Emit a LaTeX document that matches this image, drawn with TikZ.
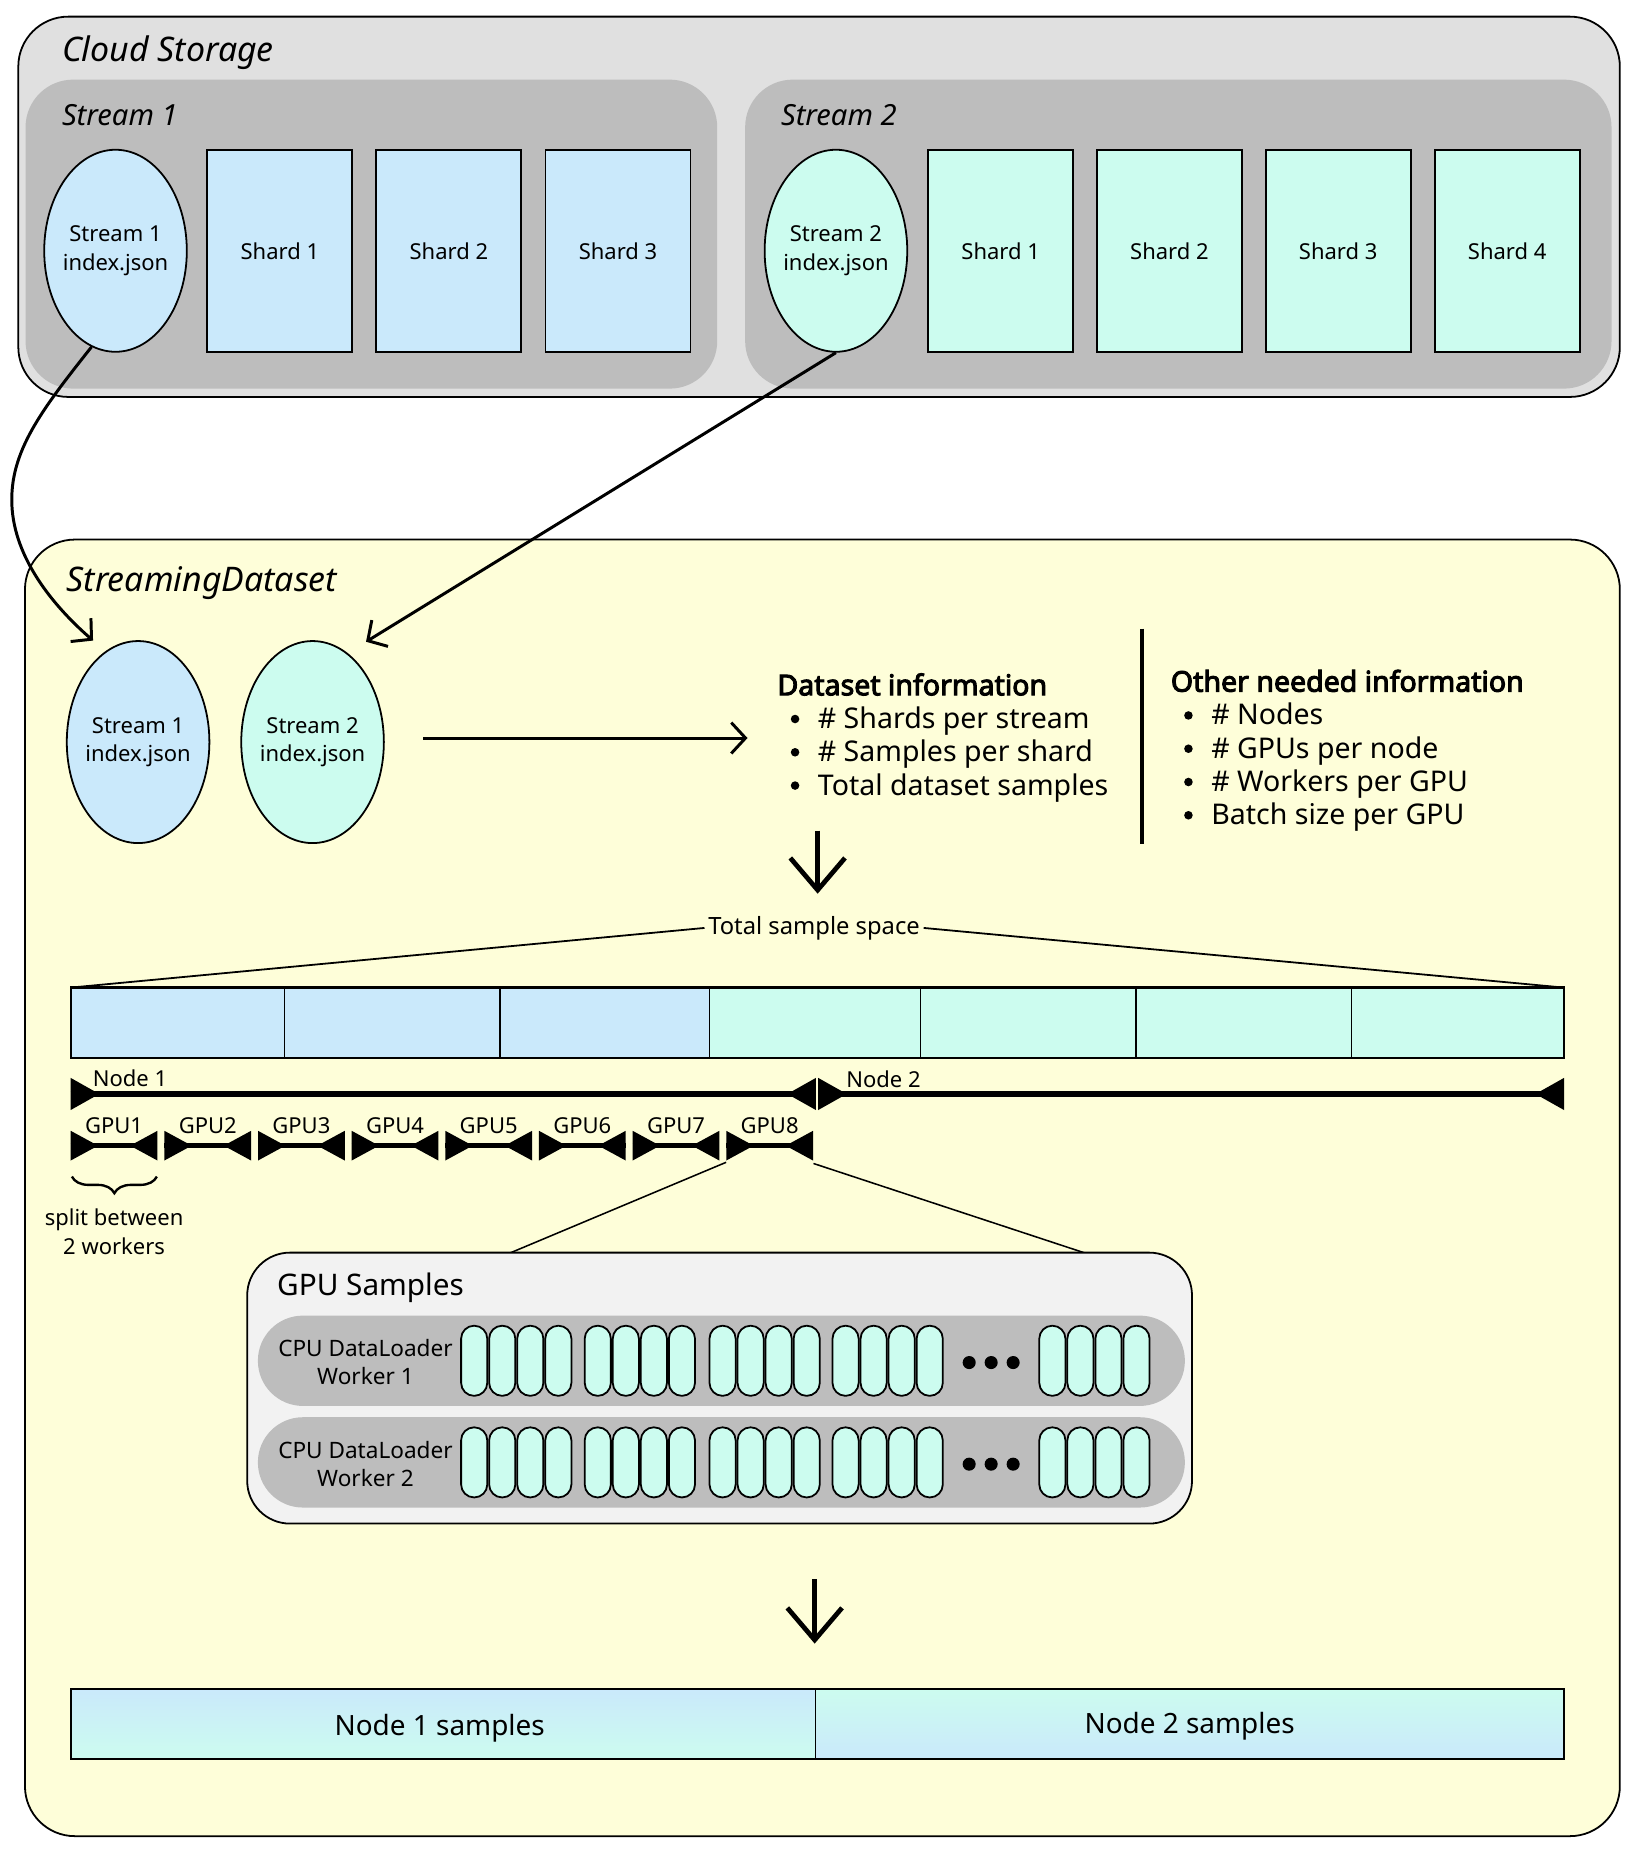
\documentclass[tikz,border=0pt]{standalone}
\usepackage{fontspec}
\setmainfont{Noto Sans}[AutoFakeBold=3.5]
\usetikzlibrary{shapes.geometric,arrows.meta,decorations.pathreplacing}
\definecolor{lblue}{HTML}{CAE9FB}
\definecolor{mint}{HTML}{CCFCEF}
\definecolor{ylw}{HTML}{FEFED9}
\definecolor{cloudg}{HTML}{E0E0E0}
\definecolor{streamg}{HTML}{BDBDBD}
\definecolor{gpubox}{HTML}{F2F2F2}
\newcommand\trir[4]{\fill (#1,#2-#3) -- (#1+#4,#2) -- (#1,#2+#3) -- cycle;}
\newcommand\tril[4]{\fill (#1,#2-#3) -- (#1-#4,#2) -- (#1,#2+#3) -- cycle;}
\newcommand\dimline[6]{\draw[line width=#6] (#1,#3) -- (#2,#3); \trir{#1}{#3}{#4}{#5} \tril{#2}{#3}{#4}{#5}}
\tikzset{
  outerbox/.style={draw=black, line width=1.5pt, rounded corners=42pt},
  innerbox/.style={rounded corners=40pt},
  boxtitle/.style={anchor=base west, inner sep=0pt, font=\fontsize{28.5}{32}\selectfont\itshape},
  subtitle/.style={anchor=base west, inner sep=0pt, font=\fontsize{24.5}{28}\selectfont\itshape},
  idx/.style={ellipse, draw, line width=1.5pt, minimum width=120pt, minimum height=170pt, inner sep=-12pt, align=center, font=\fontsize{18.5}{24}\selectfont},
  shard/.style={rectangle, draw, line width=1.5pt, minimum width=122pt, minimum height=170pt, inner sep=0pt, font=\fontsize{18.5}{22}\selectfont},
  infoblock/.style={anchor=base west, inner sep=0pt, align=left, font=\fontsize{24}{28}\selectfont},
  smalllab/.style={inner sep=0pt, font=\fontsize{18.5}{24}\selectfont},
  arr/.style={line width=2.5pt, -{Straight Barb[length=12pt,width=26pt]}},
  bigarr/.style={line width=4pt, -{Straight Barb[length=27pt,width=46pt]}},
  pill/.style={draw, line width=1.5pt, fill=mint, rounded corners=10.9pt},
}
\begin{document}
\begin{tikzpicture}[x=1pt,y=-1pt]
\useasboundingbox (0,0) rectangle (1380,1563.4);
\fill[white] (0,0) rectangle (1380,1563.4);

% ---------------- Cloud storage ----------------
\draw[outerbox, fill=cloudg] (15.4,14) rectangle (1363,334);
\node[boxtitle] (cloudt) at (52,52) {Cloud Storage};
\fill[innerbox, streamg] (21.5,67) rectangle (603.5,327);
\fill[innerbox, streamg] (627,67) rectangle (1356,327);
\node[subtitle] (st1) at (52,106) {Stream 1};
\node[subtitle] (st2) at (657,106) {Stream 2};

\node[idx, fill=lblue] (s1c) at (97.2,211) {Stream 1\\index.json};
\node[shard, fill=lblue] (a1) at (235.5,211) {Shard 1};
\node[shard, fill=lblue] (a2) at (377.7,211) {Shard 2};
\node[shard, fill=lblue] (a3) at (520,211) {Shard 3};

\node[idx, fill=mint] (s2c) at (703.4,211) {Stream 2\\index.json};
\node[shard, fill=mint] (b1) at (842,211) {Shard 1};
\node[shard, fill=mint] (b2) at (984,211) {Shard 2};
\node[shard, fill=mint] (b3) at (1126,211) {Shard 3};
\node[shard, fill=mint] (b4) at (1268.2,211) {Shard 4};

% ---------------- Streaming dataset ----------------
\draw[outerbox, fill=ylw] (21,454) rectangle (1363,1545);
\node[boxtitle] (sdt) at (56,497.5) {StreamingDataset};

\node[idx, fill=lblue] (d1) at (116.2,624.4) {Stream 1\\index.json};
\node[idx, fill=mint] (d2) at (263,624.4) {Stream 2\\index.json};

\coordinate (e1) at (78.3,539);
\coordinate (e2) at (308,540);
\draw[arr] (s1c.256) .. controls (35,345) and (8,380) .. (10,425) .. controls (12,470) and (45,510) .. (e1);
\draw[arr] (s2c.south) -- (e2);

\coordinate (ra1) at (356,621);
\coordinate (ra2) at (629,621);
\draw[arr] (ra1) -- (ra2);

\node[infoblock] (dinfo) at (654,669) {{\bfseries Dataset information}\\
\hspace*{34pt}\# Shards per stream\\
\hspace*{34pt}\# Samples per shard\\
\hspace*{34pt}Total dataset samples};
\foreach \by in {613,641,669}{\fill (669,\by-8) circle (3.6pt);}

\coordinate (vl1) at (961,529);
\coordinate (vl2) at (961,710);
\draw[line width=4pt] (vl1) -- (vl2);

\node[infoblock] (oinfo) at (985,694) {{\bfseries Other needed information}\\
\hspace*{34pt}\# Nodes\\
\hspace*{34pt}\# GPUs per node\\
\hspace*{34pt}\# Workers per GPU\\
\hspace*{34pt}Batch size per GPU};
\foreach \by in {610,638,666,694}{\fill (1000,\by-8) circle (3.6pt);}

\coordinate (da1) at (688,699);
\coordinate (da2) at (688,752);
\draw[bigarr] (da1) -- (da2);

% total sample space
\node[inner sep=3pt, anchor=base, font=\fontsize{20}{24}\selectfont] (tss) at (685,786) {Total sample space};
\coordinate (bl) at (59.5,831);
\coordinate (br) at (1316,831);
\draw[line width=1.5pt] (tss.west) -- (bl);
\draw[line width=1.5pt] (tss.east) -- (br);

\foreach \xa/\xb/\c in {59.5/239.5/lblue,239.5/420.7/lblue,420.7/596.7/lblue,596.7/774.5/mint,774.5/955.8/mint,955.8/1137/mint,1137/1316/mint}{
  \draw[fill=\c, line width=1pt] (\xa,831) rectangle (\xb,890);
}
\draw[line width=2pt] (bl) rectangle (1316,890);

% node lines
\dimline{59.5}{686.5}{920.5}{13.5}{24}{4.5pt}
\dimline{688.5}{1316}{920.5}{13.5}{24}{4.5pt}
\node[smalllab, anchor=base west] (n1l) at (78,914) {Node 1};
\node[smalllab, anchor=base west] (n2l) at (712,915) {Node 2};

% gpu lines
\foreach \i in {0,...,7}{
  \pgfmathsetmacro\xa{59.5+78.8*\i}
  \pgfmathsetmacro\xb{\xa+73}
  \pgfmathsetmacro\xc{\xa+36.5}
  \pgfmathtruncatemacro\j{\i+1}
  \dimline{\xa}{\xb}{964}{12.5}{23}{4pt}
  \node[smalllab, anchor=base] (gpu\j) at (\xc,953.5) {GPU\j};
}

\draw[decorate, decoration={brace, amplitude=14pt, mirror}, line width=2pt] (60.5,990) -- (132,990);
\node[smalllab, align=center, anchor=base, font=\fontsize{18.5}{24}\selectfont] (split) at (96,1055.5) {split between\\2 workers};

% zoom lines
\coordinate (z1) at (611,978);
\coordinate (z2) at (684.5,979);
\coordinate (z3) at (427.5,1055);
\coordinate (z4) at (915,1055);
\draw[line width=1.3pt] (z1) -- (z3);
\draw[line width=1.3pt] (z2) -- (z4);

% GPU samples box
\draw[fill=gpubox, line width=1.5pt, rounded corners=36pt] (208,1054) rectangle (1003,1282);
\node[anchor=base west, inner sep=0pt, font=\fontsize{25}{28}\selectfont] (gpus) at (233,1090) {GPU Samples};
\foreach \yr/\k in {1145/1,1230.5/2}{
  \fill[streamg, rounded corners=37.9pt] (217,\yr-38) rectangle (997,\yr+38);
  \node[smalllab, align=center, font=\fontsize{19}{23.5}\selectfont] (w\k) at (307.5,\yr+1) {CPU DataLoader\\Worker \k};
  \foreach \gx in {388,492,597,700.5,874.5}{
    \foreach \p in {0,1,2,3}{
      \draw[pill] (\gx+23.6*\p,\yr-29.5) rectangle (\gx+23.6*\p+22,\yr+29.5);
    }
  }
  \foreach \dx in {815.5,834,852.5}{
    \fill (\dx,\yr+1.5) circle (5.5pt);
  }
}

\coordinate (db1) at (685.5,1329);
\coordinate (db2) at (685.5,1383);
\draw[bigarr] (db1) -- (db2);

% node samples
\shade[top color=lblue, bottom color=mint] (59.5,1421) rectangle (686.5,1480);
\shade[top color=mint, bottom color=lblue] (686.5,1421) rectangle (1316,1480);
\draw[line width=1.5pt] (59.5,1421) rectangle (1316,1480);
\draw[line width=1pt] (686.5,1421) -- (686.5,1480);
\node[anchor=base, inner sep=0pt, font=\fontsize{23.5}{28}\selectfont] (ns1) at (370,1460) {Node 1 samples};
\node[anchor=base, inner sep=0pt, font=\fontsize{23.5}{28}\selectfont] (ns2) at (1001,1459) {Node 2 samples};
\end{tikzpicture}
\end{document}
